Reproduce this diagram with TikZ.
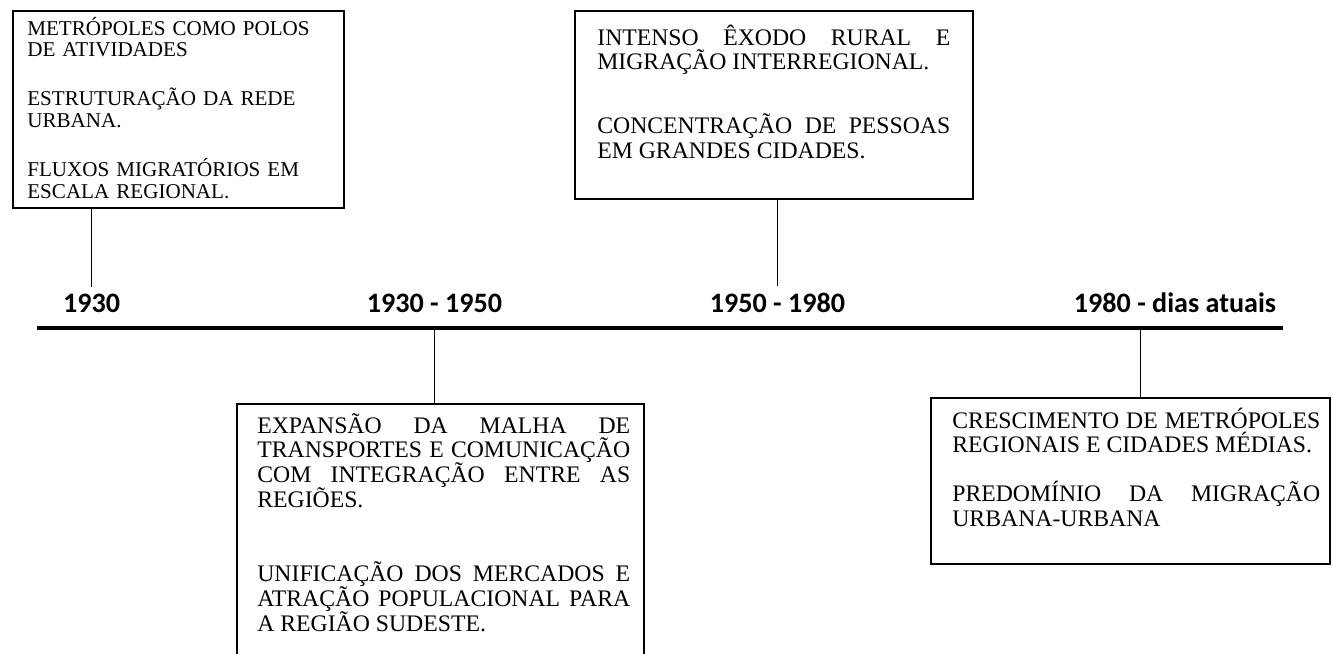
\documentclass[tikz,border=0pt]{standalone}
\usepackage{fontspec}
\setmainfont{Liberation Serif}
\newfontfamily\rotulofont{Carlito}
\usetikzlibrary{positioning}

\tikzset{
	caixa/.style={draw, line width=1pt, anchor=north west, inner sep=0pt},
	texto/.style={anchor=base west, inner sep=0pt, align=justify,
		font=\fontsize{13.5}{14.2}\selectfont},
	ano/.style={anchor=base, font=\rotulofont\bfseries\fontsize{16}{19}\selectfont},
	haste/.style={line width=0.8pt}
}

\begin{document}
\begin{tikzpicture}[x=0.02cm, y=-0.02cm]
	\useasboundingbox (0,0) rectangle (1333,653);
	\clip (0,0) rectangle (1333,653);

	% linha do tempo
	\coordinate (ini) at (37,328);
	\coordinate (fim) at (1283,328);
	\draw[line width=2.3pt] (ini) -- (fim);

	% anos
	\node[ano] (a1) at (91.5,312) {1930};
	\node[ano] (a2) at (434.5,312) {1930 - 1950};
	\node[ano] (a3) at (777.5,312) {1950 - 1980};
	\node[ano] (a4) at (1175,312) {1980 - dias atuais};

	% caixas de cima
	\node[caixa, minimum width=6.62cm, minimum height=3.94cm] (c1) at (12,10) {};
	\node[texto, align=left, text width=6cm, font=\fontsize{12}{12.5}\selectfont]
		at (27,35) {METRÓPOLES COMO POLOS\\DE ATIVIDADES\\[15.3pt]
		ESTRUTURAÇÃO DA REDE\\URBANA.\\[15.3pt]
		FLUXOS MIGRATÓRIOS EM\\ESCALA REGIONAL.};

	\node[caixa, minimum width=7.96cm, minimum height=3.76cm] (c2) at (574,10) {};
	\node[texto, text width=7.06cm] at (597,45)
		{INTENSO ÊXODO RURAL E\linebreak MIGRAÇÃO INTERREGIONAL.\\[22pt]
		CONCENTRAÇÃO DE PESSOAS\linebreak EM GRANDES CIDADES.};

	% caixas de baixo
	\node[caixa, minimum width=8.14cm, minimum height=6cm] (c3) at (236,403) {};
	\node[texto, text width=7.46cm] at (257,433)
		{EXPANSÃO DA MALHA DE\linebreak TRANSPORTES E COMUNICAÇÃO\linebreak
		COM INTEGRAÇÃO ENTRE AS\linebreak REGIÕES.\\[27.8pt]
		UNIFICAÇÃO DOS MERCADOS E\linebreak ATRAÇÃO POPULACIONAL PARA\linebreak
		A REGIÃO SUDESTE.};

	\node[caixa, minimum width=7.98cm, minimum height=3.32cm] (c4) at (930,397) {};
	\node[texto, text width=7.36cm] at (952,428)
		{CRESCIMENTO DE METRÓPOLES\linebreak REGIONAIS E CIDADES MÉDIAS.\\[13.6pt]
		PREDOMÍNIO DA MIGRAÇÃO\linebreak URBANA-URBANA};

	% hastes
	\draw[haste] (a1.north) -- (a1.north |- c1.south);
	\draw[haste] (a3.north) -- (a3.north |- c2.south);
	\draw[haste] (a2 |- ini) -- (a2 |- c3.north);
	\draw[haste] ([xshift=0.2cm]c4.north |- ini) -- ([xshift=0.2cm]c4.north);
\end{tikzpicture}
\end{document}
